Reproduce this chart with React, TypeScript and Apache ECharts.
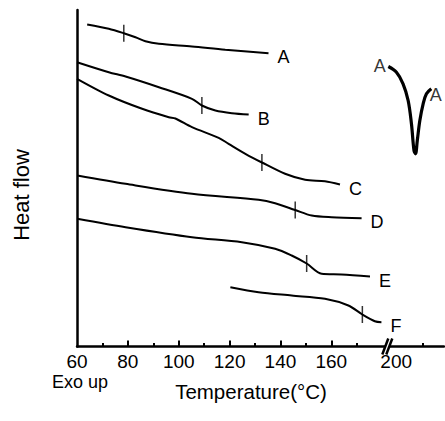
import React, { useEffect, useRef } from "react";
import * as echarts from "echarts";

// Display temperature (°C) vs heat flow (a.u.). Values after the axis break are shifted (display = real - 14.5).
const curveA = [[64.0,32.2],[72.5,31.77],[78.4,31.33],[83.0,30.93],[86.9,30.53],[92.2,30.27],[105.2,30.0],[118.3,29.67],[135.3,29.33]];
const curveB = [[60,28.43],[72.5,27.43],[79.1,27.0],[92.2,25.93],[105.2,24.77],[109.1,24.1],[114.4,23.6],[120.9,23.33],[127.5,23.2]];
const curveC = [[60,26.77],[72.5,25.1],[85.6,23.77],[96.1,22.93],[98.7,22.8],[105.2,21.93],[115.7,20.87],[119.6,20.27],[126.2,19.27],[132.7,18.4],[141.8,17.27],[149.7,16.67],[157.5,16.53],[163.4,16.2]];
const curveD = [[60.1,17.1],[79.1,16.27],[105.2,15.27],[131.4,14.67],[137.9,14.33],[145.8,13.65],[152.3,13.1],[160.1,12.93],[171.9,12.83]];
const curveE = [[60.1,12.77],[79.1,11.93],[105.2,10.93],[124.8,10.43],[137.9,9.77],[144.4,9.1],[150.3,8.3],[156.2,7.27],[164.0,7.2],[175.2,7.0]];
const curveF = [[120.3,5.93],[131.4,5.43],[144.4,5.1],[157.5,4.77],[166.7,4.1],[172.2,3.2],[177.1,2.53],[179.7,2.43]];
const insetA = [[182.4,28.0],[185.6,27.43],[188.2,26.27],[190.2,24.6],[191.5,22.27],[192.5,19.6],[193.1,19.27],[193.8,20.6],[194.8,22.6],[196.1,24.27],[197.4,25.27],[199.3,25.77]];
const transitionMarks = [[78.4,31.33],[109.1,24.1],[132.7,18.4],[145.8,13.65],[150.3,8.3],[172.2,3.2]];

const majorTicks = [80, 100, 120, 140, 160];
const minorTicks = [70, 90, 110, 130, 150, 170, 196];
const labelValues = [60, 80, 100, 120, 140, 160, 185.5];
const labelTexts = ["60", "80", "100", "120", "140", "160", "200"];
const breakAt = [182, 0];

const FONT = "Liberation Sans, Arial, Helvetica, sans-serif";

export default function App() {
  const ref = useRef<HTMLDivElement>(null);
  useEffect(() => {
    if (!ref.current) return;
    const chart = echarts.init(ref.current, null, { renderer: "svg" });
    const curves: [string, number[][]][] = [
      ["A", curveA], ["B", curveB], ["C", curveC], ["D", curveD], ["E", curveE], ["F", curveF],
    ];
    const lineSeries = curves.map(([name, data]) => ({
      type: "line",
      name,
      data,
      symbol: "none",
      smooth: 0.3,
      lineStyle: { color: "#000", width: 2 },
      endLabel: { show: true, formatter: name, color: "#000", fontSize: 18, fontFamily: FONT, offset: [1, 4] },
      z: 3,
    }));
    const insetEnds = [
      { value: insetA[0], label: { show: true, position: "left", distance: 2, offset: [0, -1], formatter: "A" } },
      { value: insetA[insetA.length - 1], label: { show: true, position: "right", distance: 1, offset: [-3, 6], formatter: "A" } },
    ];
    chart.setOption({
      animation: false,
      backgroundColor: "#fff",
      grid: { left: 77, right: 1, top: 10, bottom: 74.5 },
      xAxis: [
        {
          type: "value", min: 60, max: 204.3,
          axisLine: { show: true, lineStyle: { color: "#000", width: 2.5 } },
          axisTick: { show: true, inside: true, length: 6, customValues: majorTicks, lineStyle: { color: "#000", width: 2 } },
          axisLabel: {
            show: true, customValues: labelValues, margin: 5, color: "#000", fontSize: 19, fontFamily: FONT,
            formatter: (v: number) => { const i = labelValues.indexOf(v); return i >= 0 ? labelTexts[i] : ""; },
          },
          splitLine: { show: false },
        },
        {
          type: "value", min: 60, max: 204.3, position: "bottom",
          axisLine: { show: false },
          axisTick: { show: true, inside: true, length: 3.5, customValues: minorTicks, lineStyle: { color: "#000", width: 2 } },
          axisLabel: { show: false },
          splitLine: { show: false },
        },
      ],
      yAxis: {
        type: "value", min: 0, max: 33.65,
        axisLine: { show: true, lineStyle: { color: "#000", width: 2.5 } },
        axisTick: { show: false }, axisLabel: { show: false }, splitLine: { show: false },
      },
      series: [
        ...lineSeries,
        {
          type: "line", name: "A (inset)", data: insetA, symbol: "none", smooth: 0.35,
          lineStyle: { color: "#000", width: 3.2 }, z: 3,
        },
        {
          type: "scatter", name: "inset labels", data: insetEnds, symbol: "circle", symbolSize: 1,
          itemStyle: { color: "rgba(0,0,0,0)" },
          label: { show: true, color: "#000", fontSize: 18, fontFamily: FONT },
          z: 5,
        },
        {
          type: "scatter", name: "Tg marks", data: transitionMarks, symbol: "rect", symbolSize: [1.5, 17],
          itemStyle: { color: "#000" }, z: 4,
        },
        {
          type: "custom", name: "break", data: [breakAt], clip: false, z: 10,
          renderItem: (_params: any, api: any) => {
            const p = api.coord([api.value(0), api.value(1)]);
            const x = p[0], y = p[1];
            return {
              type: "group",
              children: [
                { type: "polygon", shape: { points: [[x - 5, y + 8], [x - 1, y + 8], [x + 5, y - 8], [x + 1, y - 8]] }, style: { fill: "#fff" } },
                { type: "line", shape: { x1: x - 5, y1: y + 8, x2: x + 1, y2: y - 8 }, style: { stroke: "#000", lineWidth: 2.5 } },
                { type: "line", shape: { x1: x - 1, y1: y + 8, x2: x + 5, y2: y - 8 }, style: { stroke: "#000", lineWidth: 2.5 } },
              ],
            };
          },
        },
      ],
      graphic: [
        { type: "text", x: 21, y: 195, rotation: Math.PI / 2, style: { text: "Heat flow", fontSize: 22, fontFamily: FONT, fill: "#000", align: "center", verticalAlign: "middle" } },
        { type: "text", x: 52, y: 382, style: { text: "Exo up", fontSize: 18, fontFamily: FONT, fill: "#000", align: "left", verticalAlign: "middle" } },
        { type: "text", x: 251, y: 391, style: { text: "Temperature(°C)", fontSize: 20.5, fontFamily: FONT, fill: "#000", align: "center", verticalAlign: "middle" } },
      ],
    });
    return () => chart.dispose();
  }, []);
  return <div ref={ref} style={{ position: "fixed", left: 0, top: 0, width: 445, height: 421, background: "#fff" }} />;
}
